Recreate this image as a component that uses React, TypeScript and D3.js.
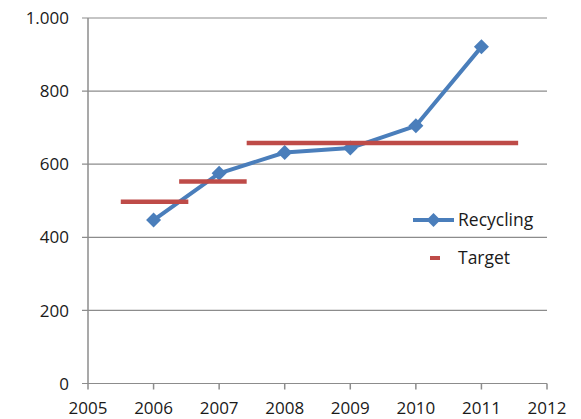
import React from "react";
import * as d3 from "d3";

const years = [2006, 2007, 2008, 2009, 2010, 2011];
const recycling = [447, 575, 632, 644, 705, 921];

const targetStart = [2005.5, 2006.39, 2007.42];
const targetEnd = [2006.53, 2007.42, 2011.56];
const targetValue = [497, 553, 658];

const xTicks = [2005, 2006, 2007, 2008, 2009, 2010, 2011, 2012];
const yTicks = [0, 200, 400, 600, 800, 1000];
const yTickLabels = ["0", "200", "400", "600", "800", "1.000"];

const legendLabels = ["Recycling", "Target"];

const W = 581;
const H = 419;
const left = 88;
const right = 547;
const top = 18;
const bottom = 383.5;

const BLUE = "#4a7ebb";
const RED = "#be4b48";
const GRID = "#8c8c8c";
const TEXT = "#1a1a1a";
const FONT = "'Open Sans', sans-serif";

export default function App() {
  const x = d3.scaleLinear().domain([2005, 2012]).range([left, right]);
  const y = d3.scaleLinear().domain([0, 1000]).range([bottom, top]);

  const line = d3
    .line<number>()
    .x((_, i) => x(years[i]))
    .y((d) => y(d));

  const diamond = (cx: number, cy: number, r: number) =>
    `M${cx},${cy - r}L${cx + r},${cy}L${cx},${cy + r}L${cx - r},${cy}Z`;

  return (
    <svg
      width={W}
      height={H}
      style={{ position: "absolute", left: 0, top: 0, background: "#fff" }}
    >
      {/* gridlines */}
      {yTicks.map((t) => (
        <line
          key={"g" + t}
          x1={left - 6}
          x2={right}
          y1={y(t)}
          y2={y(t)}
          stroke={GRID}
          strokeWidth={1.2}
        />
      ))}
      {/* y axis */}
      <line x1={left} x2={left} y1={top} y2={bottom} stroke={GRID} strokeWidth={1.5} />
      {/* x ticks */}
      {xTicks.map((t) => (
        <line
          key={"xt" + t}
          x1={x(t)}
          x2={x(t)}
          y1={bottom}
          y2={bottom + 6}
          stroke={GRID}
          strokeWidth={1.5}
        />
      ))}
      {/* y labels */}
      {yTicks.map((t, i) => (
        <text
          key={"yl" + t}
          x={69}
          y={y(t)}
          dy="0.36em"
          textAnchor="end"
          fontFamily={FONT}
          fontSize={17}
          fill={TEXT}
        >
          {yTickLabels[i]}
        </text>
      ))}
      {/* x labels */}
      {xTicks.map((t) => (
        <text
          key={"xl" + t}
          x={x(t)}
          y={414}
          textAnchor="middle"
          fontFamily={FONT}
          fontSize={17}
          fill={TEXT}
        >
          {t}
        </text>
      ))}
      {/* recycling line */}
      <path
        d={line(recycling) || ""}
        fill="none"
        stroke={BLUE}
        strokeWidth={4}
        strokeLinejoin="round"
      />
      {recycling.map((v, i) => (
        <path key={"m" + i} d={diamond(x(years[i]), y(v), 7.5)} fill={BLUE} />
      ))}
      {/* targets */}
      {targetValue.map((v, i) => (
        <line
          key={"tg" + i}
          x1={x(targetStart[i])}
          x2={x(targetEnd[i])}
          y1={y(v)}
          y2={y(v)}
          stroke={RED}
          strokeWidth={4.5}
        />
      ))}
      {/* legend */}
      <line x1={413} x2={454} y1={220} y2={220} stroke={BLUE} strokeWidth={4} />
      <path d={diamond(433.5, 220, 7)} fill={BLUE} />
      <text x={458} y={226} fontFamily={FONT} fontSize={17.5} fill={TEXT}>
        {legendLabels[0]}
      </text>
      <line x1={430} x2={440} y1={258} y2={258} stroke={RED} strokeWidth={4} />
      <text x={458} y={264} fontFamily={FONT} fontSize={17.5} fill={TEXT}>
        {legendLabels[1]}
      </text>
    </svg>
  );
}
